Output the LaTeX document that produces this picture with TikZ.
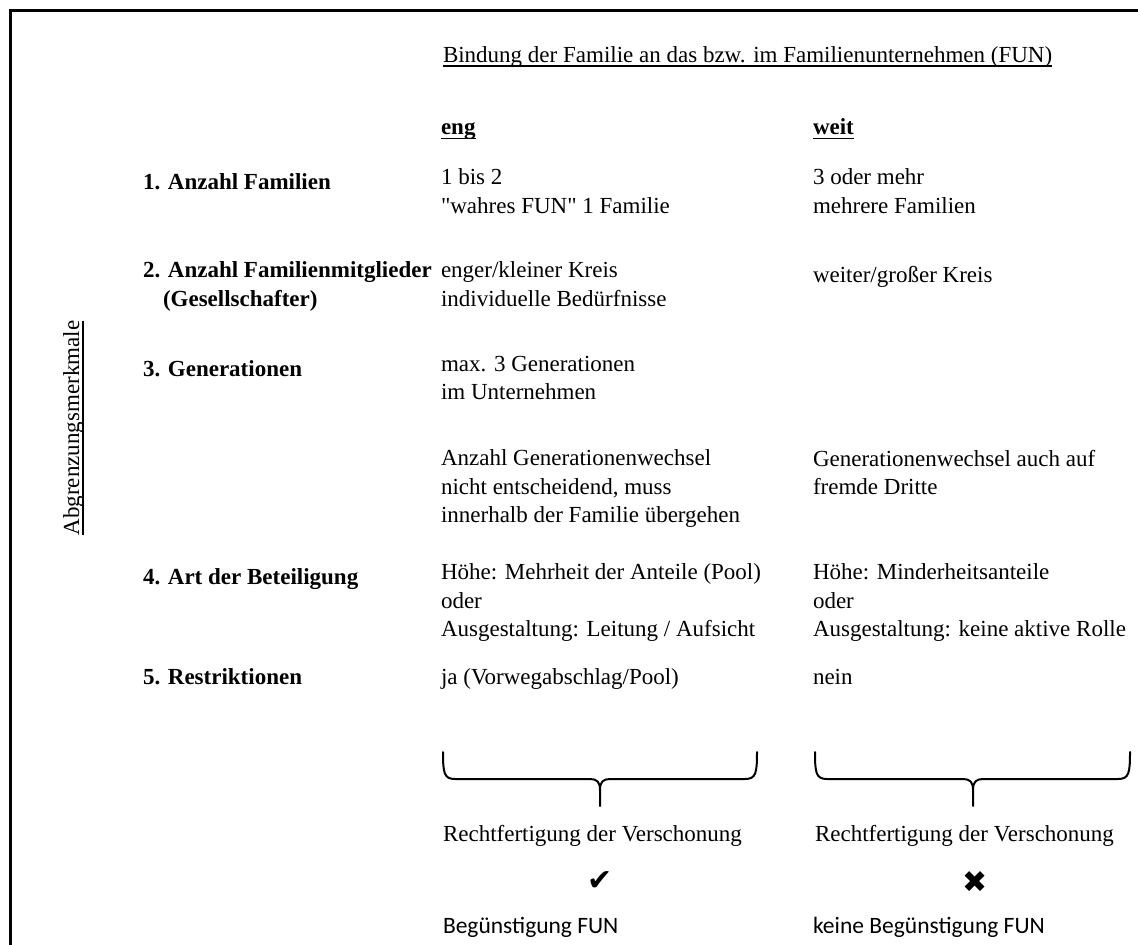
\documentclass[tikz,border=0pt]{standalone}
\usepackage{fontspec}
\setmainfont{Liberation Serif}[Ligatures=TeXOff]
\newfontfamily\calibrifont{Carlito}
\newfontfamily\symfont{DejaVu Sans}
\begin{document}
\begin{tikzpicture}[x=1pt,y=-1pt,
  every node/.style={inner sep=0pt, outer sep=0pt},
  single/.style={anchor=base west, font=\fontsize{23}{28.5}\selectfont},
  singlebf/.style={anchor=base west, font=\fontsize{23}{28.5}\selectfont\bfseries},
  body/.style={anchor=north west, align=left, yshift=20pt,
    font=\fontsize{23}{28.5}\selectfont, execute at begin node={\rule{0pt}{20pt}}},
  head/.style={body, font=\fontsize{23}{28.5}\selectfont\bfseries},
  sans/.style={anchor=base west, font=\calibrifont\fontsize{23.5}{26}\selectfont},
  symb/.style={anchor=center, font=\symfont\fontsize{30}{30}\selectfont},
  uline/.style={line width=1.5pt},
  frameline/.style={line width=3pt},
  bracestroke/.style={line width=2pt, line join=round, line cap=round}]
\useasboundingbox (0,0) rectangle (1138,945);

% outer frame (left and top edges)
\draw[frameline] (10.8,945) -- (10.8,10.8) -- (1138,10.8);

% heading and column titles
\node[single] (title) at (443,62) {Bindung der Familie an das bzw. im Familienunternehmen (FUN)};
\draw[uline] ([yshift=-4pt]title.base west) -- ([yshift=-4pt]title.base east);
\node[singlebf] (eng) at (441,134) {eng};
\draw[uline] ([yshift=-4.5pt]eng.base west) -- ([yshift=-4.5pt]eng.base east);
\node[singlebf] (weit) at (813,134) {weit};
\draw[uline] ([yshift=-4.5pt]weit.base west) -- ([yshift=-4.5pt]weit.base east);

% vertical caption
\node[single, anchor=base, rotate=90] (side) at (79,428) {Abgrenzungsmerkmale};
\draw[uline] ([xshift=4pt]side.base west) -- ([xshift=4pt]side.base east);

% criteria
\node[head] (l1) at (143,189) {1. Anzahl Familien};
\node[head] (l2) at (143,282) {2. Anzahl Familienmitglieder\\\hspace*{20pt}(Gesellschafter)};
\node[head] (l3) at (143,376) {3. Generationen};
\node[head] (l4) at (143,584) {4. Art der Beteiligung};
\node[head] (l5) at (143,684) {5. Restriktionen};

% narrow binding
\node[body] (e1) at (441,189) {1 bis 2\\"wahres FUN" 1 Familie};
\node[body] (e2) at (441,282) {enger/kleiner Kreis\\individuelle Bedürfnisse};
\node[body] (e3) at (441,376) {max. 3 Generationen\\im Unternehmen};
\node[body] (e3b) at (441,470) {Anzahl Generationenwechsel\\nicht entscheidend, muss\\innerhalb der Familie übergehen};
\node[body] (e4) at (441,584) {Höhe: Mehrheit der Anteile (Pool)\\oder\\Ausgestaltung: Leitung / Aufsicht};
\node[body] (e5) at (441,684) {ja (Vorwegabschlag/Pool)};

% wide binding
\node[body] (w1) at (813,189) {3 oder mehr\\mehrere Familien};
\node[body] (w2) at (813,282) {weiter/großer Kreis};
\node[body] (w3b) at (813,470) {Generationenwechsel auch auf\\fremde Dritte};
\node[body] (w4) at (813,584) {Höhe: Minderheitsanteile\\oder\\Ausgestaltung: keine aktive Rolle};
\node[body] (w5) at (813,684) {nein};

% braces
\draw[bracestroke] (443,752) .. controls (443,773) and (444,779) .. (455,779)
  -- (590,779) .. controls (597,779) and (600,782) .. (600,790) -- (600,806)
  -- (600,790) .. controls (600,782) and (603,779) .. (610,779)
  -- (745,779) .. controls (756,779) and (757,773) .. (757,752);
\draw[bracestroke] (815,752) .. controls (815,773) and (816,779) .. (827,779)
  -- (963,779) .. controls (970,779) and (973,782) .. (973,790) -- (973,806)
  -- (973,790) .. controls (973,782) and (976,779) .. (983,779)
  -- (1118,779) .. controls (1129,779) and (1130,773) .. (1130,752);

% conclusions
\node[single] (rl) at (443,841) {Rechtfertigung der Verschonung};
\node[single] (rr) at (815,841) {Rechtfertigung der Verschonung};
\node[symb] (ok) at (600,881) {✔};
\node[symb] (no) at (975,882) {✖};
\node[sans] (bl) at (443,933) {Begünstigung FUN};
\node[sans] (br) at (813,933) {keine Begünstigung FUN};
\end{tikzpicture}
\end{document}
